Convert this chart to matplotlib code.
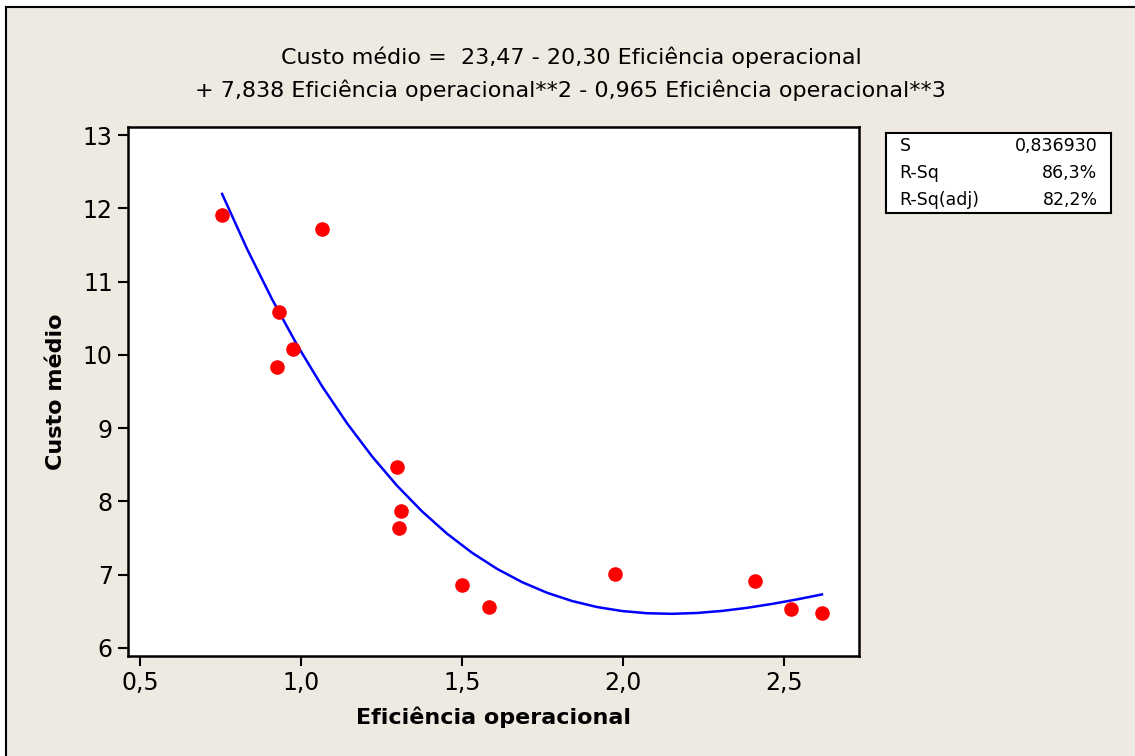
import numpy as np
import matplotlib.pyplot as plt

plt.rcParams['font.family'] = ['DejaVu Sans']

eficiencia = [0.755, 1.065, 0.932, 0.975, 0.925, 1.298, 1.311, 1.304,
              1.50, 1.584, 1.975, 2.41, 2.522, 2.618]
custo = [11.91, 11.72, 10.59, 10.08, 9.84, 8.47, 7.87, 7.64,
         6.86, 6.56, 7.01, 6.92, 6.53, 6.48]

# Coeficientes da regressão cúbica (do título)
coef = [23.47, -20.30, 7.838, -0.965]

stats_labels = ['S', 'R-Sq', 'R-Sq(adj)']
stats_values = ['0,836930', '86,3%', '82,2%']

xticks = [0.5, 1.0, 1.5, 2.0, 2.5]
xtick_labels = ['0,5', '1,0', '1,5', '2,0', '2,5']
yticks = [6, 7, 8, 9, 10, 11, 12, 13]

bg = '#EEEAE1'
W, H = 1135, 756
fig = plt.figure(figsize=(W / 100, H / 100), dpi=100, facecolor='white')

# fundo bege com moldura só em cima e à esquerda
x0, y0 = 6 / W, 1 - 7 / H
fig.patches.append(plt.Rectangle((x0, 0), 1 - x0, y0, transform=fig.transFigure,
                                 facecolor=bg, edgecolor='none', zorder=-5))
fig.add_artist(plt.Line2D([x0, x0], [0, y0], transform=fig.transFigure,
                          color='black', lw=1.5, zorder=-4))
fig.add_artist(plt.Line2D([x0, 1], [y0, y0], transform=fig.transFigure,
                          color='black', lw=1.5, zorder=-4))

ax = fig.add_axes([128 / W, 1 - 656 / H, 731 / W, 529 / H])
ax.set_facecolor('white')

# curva ajustada
xs = np.linspace(min(eficiencia), max(eficiencia), 25)
ys = coef[0] + coef[1] * xs + coef[2] * xs ** 2 + coef[3] * xs ** 3
ax.plot(xs, ys, color='#0000FF', lw=1.8, zorder=2)
ax.plot(eficiencia, custo, 'o', color='#FF0000', markersize=10.5,
        markeredgewidth=0, zorder=3)

ax.set_xlim(0.4627, 2.733)
ax.set_ylim(5.89, 13.11)
ax.set_xticks(xticks)
ax.set_xticklabels(xtick_labels)
ax.set_yticks(yticks)
ax.tick_params(direction='out', length=7, width=1.5, labelsize=17,
               pad=4)
for s in ax.spines.values():
    s.set_linewidth(1.8)

ax.set_xlabel('Eficiência operacional', fontsize=16, fontweight='bold',
              labelpad=8)
ax.set_ylabel('Custo médio', fontsize=16, fontweight='bold', labelpad=12)

fig.text(0.503, 1 - 57 / H,
         'Custo médio =  23,47 - 20,30 Eficiência operacional',
         ha='center', va='center', fontsize=16)
fig.text(0.503, 1 - 90 / H,
         '+ 7,838 Eficiência operacional**2 - 0,965 Eficiência operacional**3',
         ha='center', va='center', fontsize=16)

# caixa com estatísticas
box = fig.add_axes([886 / W, 1 - 213 / H, 225 / W, 80 / H])
box.set_xticks([])
box.set_yticks([])
box.set_facecolor('white')
for s in box.spines.values():
    s.set_linewidth(1.5)
for i, (lab, val) in enumerate(zip(stats_labels, stats_values)):
    yy = 1 - (i + 0.5) / 3
    box.text(0.06, yy, lab, ha='left', va='center', fontsize=12.5,
             transform=box.transAxes)
    box.text(0.94, yy, val, ha='right', va='center', fontsize=12.5,
             transform=box.transAxes)

fig.savefig('out.png', dpi=100, facecolor='white')
